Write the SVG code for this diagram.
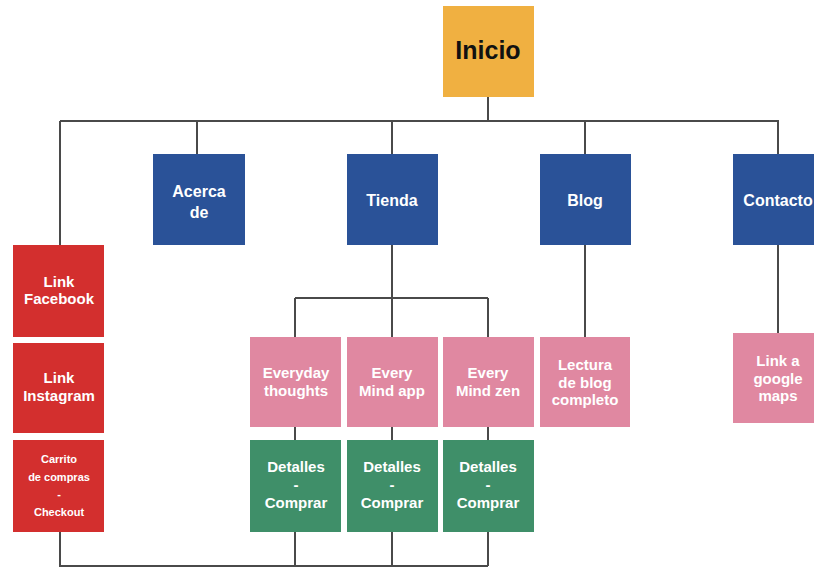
<svg xmlns="http://www.w3.org/2000/svg" width="814" height="567" viewBox="0 0 814 567">
<style>
.line{stroke:#4a4a4a;stroke-width:2;fill:none}
.t{font-family:"Liberation Sans",Arial,sans-serif;font-weight:bold;fill:#fff;text-anchor:middle}
.b{font-size:16px}
.p{font-size:15px}
.s{font-size:11px}
.yel{fill:#F0B041}.blue{fill:#2A5298}.red{fill:#D32F2E}.pink{fill:#E088A1}.green{fill:#3F8F69}
</style>
<rect width="814" height="567" fill="#fff"/>
<g id="connectors">
<path class="line" d="M488 96V121M60 121H779M197 121V154M392 121V154M585 121V154M778 121V154"/>
<path class="line" d="M60 121V245"/>
<path class="line" d="M392 245V298M295 298H488M295 298V337M392 298V337M488 298V337"/>
<path class="line" d="M295 427V440M392 427V440M488 427V440"/>
<path class="line" d="M585 245V337M778 245V333"/>
<path class="line" d="M60 532V566H488M295 532V566M392 532V566M488 532V566"/>
</g>
<g id="inicio"><rect class="yel" x="443" y="6" width="91" height="91"/><text class="t" x="488" y="59" style="font-size:25px;fill:#111">Inicio</text></g>
<g id="acerca"><rect class="blue" x="153" y="154" width="92" height="91"/><text class="t b" x="199" y="197">Acerca</text><text class="t b" x="199" y="218">de</text></g>
<g id="tienda"><rect class="blue" x="347" y="154" width="91" height="91"/><text class="t b" x="392" y="206">Tienda</text></g>
<g id="blog"><rect class="blue" x="540" y="154" width="91" height="91"/><text class="t b" x="585" y="206">Blog</text></g>
<g id="contacto"><rect class="blue" x="733" y="154" width="91" height="91"/><text class="t b" x="778" y="206">Contacto</text></g>
<g id="facebook"><rect class="red" x="13" y="245" width="91" height="92"/><text class="t p" x="59" y="287">Link</text><text class="t p" x="59" y="304">Facebook</text></g>
<g id="instagram"><rect class="red" x="13" y="343" width="91" height="90"/><text class="t p" x="59" y="383">Link</text><text class="t p" x="59" y="401">Instagram</text></g>
<g id="carrito"><rect class="red" x="13" y="440" width="91" height="92"/><text class="t s" x="59" y="463">Carrito</text><text class="t s" x="59" y="481">de compras</text><text class="t s" x="59" y="498">-</text><text class="t s" x="59" y="516">Checkout</text></g>
<g id="everyday"><rect class="pink" x="250" y="337" width="91" height="90"/><text class="t p" x="296" y="378">Everyday</text><text class="t p" x="296" y="396">thoughts</text></g>
<g id="mindapp"><rect class="pink" x="347" y="337" width="91" height="90"/><text class="t p" x="392" y="378">Every</text><text class="t p" x="392" y="396">Mind app</text></g>
<g id="mindzen"><rect class="pink" x="443" y="337" width="91" height="90"/><text class="t p" x="488" y="378">Every</text><text class="t p" x="488" y="396">Mind zen</text></g>
<g id="lectura"><rect class="pink" x="540" y="337" width="90" height="90"/><text class="t p" x="585" y="370">Lectura</text><text class="t p" x="585" y="388">de blog</text><text class="t p" x="585" y="405">completo</text></g>
<g id="maps"><rect class="pink" x="733" y="333" width="91" height="90"/><text class="t p" x="778" y="366">Link a</text><text class="t p" x="778" y="384">google</text><text class="t p" x="778" y="401">maps</text></g>
<g id="det1"><rect class="green" x="250" y="440" width="91" height="92"/><text class="t p" x="296" y="472">Detalles</text><text class="t p" x="296" y="490">-</text><text class="t p" x="296" y="508">Comprar</text></g>
<g id="det2"><rect class="green" x="347" y="440" width="91" height="92"/><text class="t p" x="392" y="472">Detalles</text><text class="t p" x="392" y="490">-</text><text class="t p" x="392" y="508">Comprar</text></g>
<g id="det3"><rect class="green" x="443" y="440" width="91" height="92"/><text class="t p" x="488" y="472">Detalles</text><text class="t p" x="488" y="490">-</text><text class="t p" x="488" y="508">Comprar</text></g>
</svg>
